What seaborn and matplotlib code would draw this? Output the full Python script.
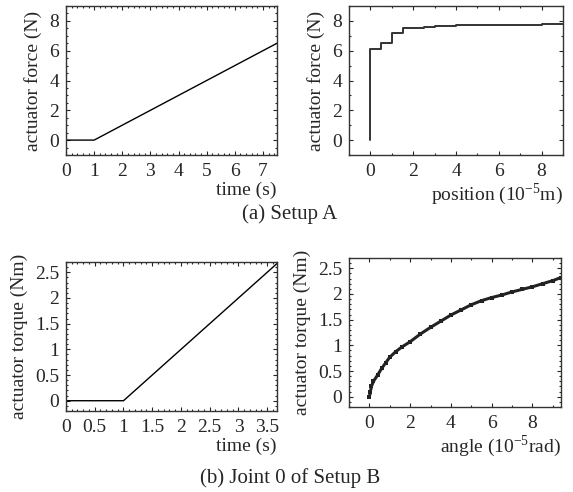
import matplotlib
matplotlib.use("Agg")
import matplotlib.pyplot as plt
import seaborn as sns
from matplotlib.ticker import MultipleLocator

# ---- data ----
ta_time = [0, 1, 7.5]
ta_force = [0, 0, 6.5]

pa_pos = [0, 0, 0.5, 1.0, 1.5, 2.0, 2.5, 3, 4, 5, 6, 7, 8, 9]
pa_force = [0, 6.1, 6.5, 7.2, 7.5, 7.55, 7.6, 7.65, 7.7, 7.72, 7.74, 7.75, 7.76, 7.77]

tb_time = [0, 1, 3.7]
tb_torque = [0, 0, 2.7]

ab_angle = [0, 0.05, 0.1, 0.2, 0.4, 0.6, 0.8, 1.0, 1.3, 1.6, 2.0, 2.5, 3.0, 3.5,
            4.0, 4.5, 5.0, 5.5, 6.0, 6.5, 7.0, 7.5, 8.0, 8.5, 9.0, 9.4]
ab_torque = [0, 0.1, 0.2, 0.3, 0.42, 0.55, 0.66, 0.77, 0.88, 0.97, 1.07, 1.22, 1.35, 1.47,
             1.59, 1.69, 1.79, 1.87, 1.93, 1.98, 2.04, 2.09, 2.14, 2.2, 2.26, 2.32]

sns.set_style("ticks")
plt.rcParams['font.family'] = ['Liberation Serif', 'DejaVu Serif']
plt.rcParams['mathtext.fontset'] = 'custom'
plt.rcParams['mathtext.rm'] = 'Liberation Serif'
plt.rcParams['font.size'] = 11

FS = 14

fig = plt.figure(figsize=(5.73, 4.92), dpi=100)
W, H = 573, 492

def ax_px(l, t, r, b):
    return fig.add_axes([l / W, 1 - b / H, (r - l) / W, (b - t) / H])

def style(ax, xmaj, xmin, ymaj, ymin):
    ax.xaxis.set_major_locator(MultipleLocator(xmaj))
    ax.xaxis.set_minor_locator(MultipleLocator(xmin))
    ax.yaxis.set_major_locator(MultipleLocator(ymaj))
    ax.yaxis.set_minor_locator(MultipleLocator(ymin))
    ax.tick_params(which='both', direction='in', top=True, right=True,
                   labelsize=FS, width=0.8)
    ax.tick_params(axis='x', pad=6)
    ax.tick_params(axis='y', pad=5)
    ax.tick_params(which='major', length=3)
    ax.tick_params(which='minor', length=1.5)
    for s in ax.spines.values():
        s.set_linewidth(1.0)
        s.set_color('#333333')

def fmt(v, pos):
    return ('%g' % v)

# top-left
ax1 = ax_px(66, 6, 277, 155)
sns.lineplot(x=ta_time, y=ta_force, ax=ax1, color='black', lw=1.0,
             estimator=None, sort=False)
ax1.set_xlim(0, 7.5)
ax1.set_ylim(-1, 9)
style(ax1, 1, 0.2, 2, 0.5)
ax1.set_xlabel('time (s)', loc='right', fontsize=FS, labelpad=1)
ax1.set_ylabel('actuator force (N)', fontsize=FS, labelpad=5)

# top-right
ax2 = ax_px(349, 6, 563, 155)
sns.lineplot(x=pa_pos, y=pa_force, ax=ax2, color='#333333', lw=1.4,
             estimator=None, sort=False, drawstyle='steps-post')
ax2.set_xlim(-1, 9)
ax2.set_ylim(-1, 9)
style(ax2, 2, 1, 2, 1)
ax2.set_xlabel('position (10$^{-5}$m)', loc='right', fontsize=FS, labelpad=1)
ax2.set_ylabel('actuator force (N)', fontsize=FS, labelpad=5)

# bottom-left
ax3 = ax_px(66, 262, 277, 411)
sns.lineplot(x=tb_time, y=tb_torque, ax=ax3, color='black', lw=1.0,
             estimator=None, sort=False)
ax3.set_xlim(0, 3.67)
ax3.set_ylim(-0.2, 2.7)
style(ax3, 0.5, 0.1, 0.5, 0.1)
ax3.xaxis.set_major_formatter(plt.FuncFormatter(fmt))
ax3.yaxis.set_major_formatter(plt.FuncFormatter(fmt))
ax3.set_xlabel('time (s)', loc='right', fontsize=FS, labelpad=1)
ax3.set_ylabel('actuator torque (Nm)', fontsize=FS, labelpad=5)

# bottom-right
ax4 = ax_px(349, 258, 561, 407)
sns.lineplot(x=ab_angle, y=ab_torque, ax=ax4, color='#222222', lw=2.2,
             estimator=None, sort=False, marker='s', markersize=2.5,
             markeredgewidth=0)
ax4.set_xlim(-1, 9.4)
ax4.set_ylim(-0.2, 2.7)
style(ax4, 2, 1, 0.5, 0.1)
ax4.yaxis.set_major_formatter(plt.FuncFormatter(fmt))
ax4.set_xlabel('angle (10$^{-5}$rad)', loc='right', fontsize=FS, labelpad=1)
ax4.set_ylabel('actuator torque (Nm)', fontsize=FS, labelpad=5)

fig.text(290 / W, 1 - 214 / H, '(a) Setup A', ha='center', va='center', fontsize=15)
fig.text(290 / W, 1 - 478 / H, '(b) Joint 0 of Setup B', ha='center', va='center', fontsize=15)

fig.savefig('out.png', dpi=100)
